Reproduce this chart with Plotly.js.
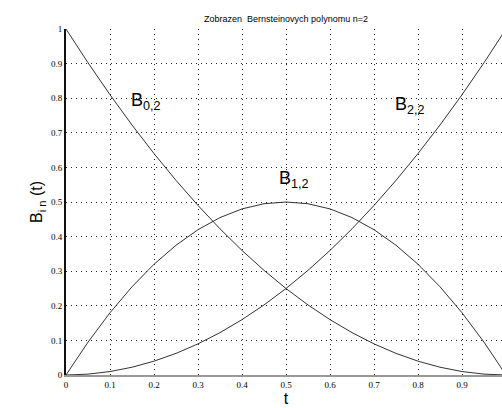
<!DOCTYPE html>
<html>
<head>
<meta charset="utf-8">
<script src="https://cdn.plot.ly/plotly-3.0.1.min.js"></script>
<style>
html,body{margin:0;padding:0;overflow:hidden;background:#fff;}
#chart{width:510px;height:408px;}
</style>
</head>
<body>
<div id="chart"></div>
<script>
// parameter t
const t = [0,0.05,0.1,0.15,0.2,0.25,0.3,0.35,0.4,0.45,0.5,0.55,0.6,0.65,0.7,0.75,0.8,0.85,0.9,0.95,1];
// B_{0,2}
const b02 = [1,0.9025,0.81,0.7225,0.64,0.5625,0.49,0.4225,0.36,0.3025,0.25,0.2025,0.16,0.1225,0.09,0.0625,0.04,0.0225,0.01,0.0025,0];
// B_{1,2}
const b12 = [0,0.095,0.18,0.255,0.32,0.375,0.42,0.455,0.48,0.495,0.5,0.495,0.48,0.455,0.42,0.375,0.32,0.255,0.18,0.095,0];
// B_{2,2}
const b22 = [0,0.0025,0.01,0.0225,0.04,0.0625,0.09,0.1225,0.16,0.2025,0.25,0.3025,0.36,0.4225,0.49,0.5625,0.64,0.7225,0.81,0.9025,1];
const tickVals = [0,0.1,0.2,0.3,0.4,0.5,0.6,0.7,0.8,0.9,1];
const xTickText = ['0','0.1','0.2','0.3','0.4','0.5','0.6','0.7','0.8','0.9',''];
const yTickText = ['0','0.1','0.2','0.3','0.4','0.5','0.6','0.7','0.8','0.9','1'];
const curveLabels = ['B<sub>0,2</sub>','B<sub>1,2</sub>','B<sub>2,2</sub>'];
const labelX = [0.143,0.48,0.743];
const labelY = [0.79,0.565,0.78];

const lineStyle = {color:'#333333', width:1};
const traces = [b02,b12,b22].map(y => ({x:t, y:y, type:'scatter', mode:'lines', line:lineStyle, hoverinfo:'skip'}));

const layout = {
  width:510, height:408,
  margin:{l:66, r:4, t:29, b:33},
  paper_bgcolor:'#fff', plot_bgcolor:'#fff',
  showlegend:false,
  font:{family:'Liberation Sans, Arial, sans-serif', color:'#000'},
  title:{text:'Zobrazen  Bernsteinovych polynomu n=2', font:{size:9, family:'Liberation Sans, Arial, sans-serif', color:'#000'}, x:0.5, xref:'paper', xanchor:'center', y:0.953, yref:'container', yanchor:'middle'},
  xaxis:{range:[0,1], tickvals:tickVals, ticktext:xTickText, showgrid:true, gridcolor:'#222', griddash:'1px,4px', gridwidth:1,
         zeroline:false, showline:true, linecolor:'#999', linewidth:2, ticks:'', tickfont:{size:9, family:'Liberation Serif, serif', color:'#000'},
         title:{text:'t', font:{size:16, family:'Liberation Sans, Arial, sans-serif', color:'#000'}, standoff:2}},
  yaxis:{range:[0,1], tickvals:tickVals, ticktext:yTickText, showgrid:true, gridcolor:'#222', griddash:'1px,4px', gridwidth:1,
         zeroline:false, showline:true, linecolor:'#111', linewidth:2, ticks:'', tickfont:{size:9, family:'Liberation Serif, serif', color:'#000'},
         title:{text:'B<sub>i n</sub> (t)', font:{size:16, family:'Liberation Sans, Arial, sans-serif', color:'#000'}, standoff:4}},
  annotations: curveLabels.map((txt,i)=>({x:labelX[i], y:labelY[i], xref:'x', yref:'y', text:txt, showarrow:false, xanchor:'left', yanchor:'middle', font:{size:18, family:'Liberation Sans, Arial, sans-serif', color:'#000'}}))
};
Plotly.newPlot('chart', traces, layout, {displayModeBar:false, staticPlot:true});
</script>
</body>
</html>
